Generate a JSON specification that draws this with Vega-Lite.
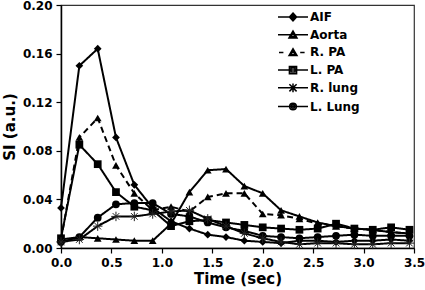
{
  "$schema": "https://vega.github.io/schema/vega-lite/v6.json",
  "width": 353,
  "height": 243,
  "autosize": {"type": "none"},
  "padding": {"left": 61, "top": 5, "right": 11, "bottom": 42},
  "background": "white",
  "config": {
    "view": {"stroke": "#333", "strokeWidth": 1.2},
    "font": "DejaVu Sans",
    "axis": {
      "labelFont": "DejaVu Sans", "labelFontWeight": "bold", "labelFontSize": 12, "labelColor": "black",
      "titleFont": "DejaVu Sans", "titleFontWeight": "bold", "titleFontSize": 15, "titleColor": "black",
      "domainColor": "black", "domainWidth": 1.5, "tickColor": "black", "tickWidth": 1.2, "tickSize": 5,
      "grid": false, "labelFlush": false
    }
  },
  "data": {"values": [
    {"t":0.0,"series":"AIF","v":0.033},{"t":0.182,"series":"AIF","v":0.150},{"t":0.364,"series":"AIF","v":0.164},{"t":0.545,"series":"AIF","v":0.091},{"t":0.727,"series":"AIF","v":0.052},{"t":0.909,"series":"AIF","v":0.033},{"t":1.091,"series":"AIF","v":0.022},{"t":1.273,"series":"AIF","v":0.016},{"t":1.455,"series":"AIF","v":0.011},{"t":1.636,"series":"AIF","v":0.009},{"t":1.818,"series":"AIF","v":0.006},{"t":2.0,"series":"AIF","v":0.005},{"t":2.182,"series":"AIF","v":0.004},{"t":2.364,"series":"AIF","v":0.006},{"t":2.545,"series":"AIF","v":0.006},{"t":2.727,"series":"AIF","v":0.005},{"t":2.909,"series":"AIF","v":0.006},{"t":3.091,"series":"AIF","v":0.006},{"t":3.273,"series":"AIF","v":0.007},{"t":3.455,"series":"AIF","v":0.006},
    {"t":0.0,"series":"Aorta","v":0.007},{"t":0.182,"series":"Aorta","v":0.009},{"t":0.364,"series":"Aorta","v":0.008},{"t":0.545,"series":"Aorta","v":0.007},{"t":0.727,"series":"Aorta","v":0.006},{"t":0.909,"series":"Aorta","v":0.006},{"t":1.091,"series":"Aorta","v":0.020},{"t":1.273,"series":"Aorta","v":0.046},{"t":1.455,"series":"Aorta","v":0.064},{"t":1.636,"series":"Aorta","v":0.065},{"t":1.818,"series":"Aorta","v":0.051},{"t":2.0,"series":"Aorta","v":0.045},{"t":2.182,"series":"Aorta","v":0.031},{"t":2.364,"series":"Aorta","v":0.026},{"t":2.545,"series":"Aorta","v":0.021},{"t":2.727,"series":"Aorta","v":0.018},{"t":2.909,"series":"Aorta","v":0.016},{"t":3.091,"series":"Aorta","v":0.015},{"t":3.273,"series":"Aorta","v":0.013},{"t":3.455,"series":"Aorta","v":0.012},
    {"t":0.0,"series":"R. PA","v":0.007},{"t":0.182,"series":"R. PA","v":0.091},{"t":0.364,"series":"R. PA","v":0.107},{"t":0.545,"series":"R. PA","v":0.068},{"t":0.727,"series":"R. PA","v":0.045},{"t":0.909,"series":"R. PA","v":0.031},{"t":1.091,"series":"R. PA","v":0.034},{"t":1.273,"series":"R. PA","v":0.030},{"t":1.455,"series":"R. PA","v":0.042},{"t":1.636,"series":"R. PA","v":0.045},{"t":1.818,"series":"R. PA","v":0.045},{"t":2.0,"series":"R. PA","v":0.028},{"t":2.182,"series":"R. PA","v":0.027},{"t":2.364,"series":"R. PA","v":0.024},{"t":2.545,"series":"R. PA","v":0.020},{"t":2.727,"series":"R. PA","v":0.018},{"t":2.909,"series":"R. PA","v":0.016},{"t":3.091,"series":"R. PA","v":0.015},{"t":3.273,"series":"R. PA","v":0.013},{"t":3.455,"series":"R. PA","v":0.012},
    {"t":0.0,"series":"L. PA","v":0.008},{"t":0.182,"series":"L. PA","v":0.085},{"t":0.364,"series":"L. PA","v":0.069},{"t":0.545,"series":"L. PA","v":0.046},{"t":0.727,"series":"L. PA","v":0.034},{"t":0.909,"series":"L. PA","v":0.031},{"t":1.091,"series":"L. PA","v":0.018},{"t":1.273,"series":"L. PA","v":0.022},{"t":1.455,"series":"L. PA","v":0.023},{"t":1.636,"series":"L. PA","v":0.021},{"t":1.818,"series":"L. PA","v":0.019},{"t":2.0,"series":"L. PA","v":0.017},{"t":2.182,"series":"L. PA","v":0.016},{"t":2.364,"series":"L. PA","v":0.015},{"t":2.545,"series":"L. PA","v":0.016},{"t":2.727,"series":"L. PA","v":0.020},{"t":2.909,"series":"L. PA","v":0.016},{"t":3.091,"series":"L. PA","v":0.015},{"t":3.273,"series":"L. PA","v":0.017},{"t":3.455,"series":"L. PA","v":0.015},
    {"t":0.0,"series":"R. lung","v":0.005},{"t":0.182,"series":"R. lung","v":0.007},{"t":0.364,"series":"R. lung","v":0.018},{"t":0.545,"series":"R. lung","v":0.026},{"t":0.727,"series":"R. lung","v":0.026},{"t":0.909,"series":"R. lung","v":0.028},{"t":1.091,"series":"R. lung","v":0.030},{"t":1.273,"series":"R. lung","v":0.031},{"t":1.455,"series":"R. lung","v":0.024},{"t":1.636,"series":"R. lung","v":0.018},{"t":1.818,"series":"R. lung","v":0.012},{"t":2.0,"series":"R. lung","v":0.008},{"t":2.182,"series":"R. lung","v":0.005},{"t":2.364,"series":"R. lung","v":0.003},{"t":2.545,"series":"R. lung","v":0.004},{"t":2.727,"series":"R. lung","v":0.004},{"t":2.909,"series":"R. lung","v":0.003},{"t":3.091,"series":"R. lung","v":0.003},{"t":3.273,"series":"R. lung","v":0.004},{"t":3.455,"series":"R. lung","v":0.004},
    {"t":0.0,"series":"L. Lung","v":0.005},{"t":0.182,"series":"L. Lung","v":0.009},{"t":0.364,"series":"L. Lung","v":0.025},{"t":0.545,"series":"L. Lung","v":0.036},{"t":0.727,"series":"L. Lung","v":0.037},{"t":0.909,"series":"L. Lung","v":0.037},{"t":1.091,"series":"L. Lung","v":0.028},{"t":1.273,"series":"L. Lung","v":0.026},{"t":1.455,"series":"L. Lung","v":0.021},{"t":1.636,"series":"L. Lung","v":0.017},{"t":1.818,"series":"L. Lung","v":0.014},{"t":2.0,"series":"L. Lung","v":0.010},{"t":2.182,"series":"L. Lung","v":0.009},{"t":2.364,"series":"L. Lung","v":0.008},{"t":2.545,"series":"L. Lung","v":0.009},{"t":2.727,"series":"L. Lung","v":0.010},{"t":2.909,"series":"L. Lung","v":0.011},{"t":3.091,"series":"L. Lung","v":0.010},{"t":3.273,"series":"L. Lung","v":0.010},{"t":3.455,"series":"L. Lung","v":0.010}
  ]},
  "encoding": {
    "x": {"field": "t", "type": "quantitative",
      "scale": {"domain": [0, 3.5], "nice": false},
      "axis": {"title": "Time (sec)", "values": [0,0.5,1,1.5,2,2.5,3,3.5], "format": ".1f", "labelPadding": 4, "titlePadding": 3}},
    "y": {"field": "v", "type": "quantitative",
      "scale": {"domain": [0, 0.2], "nice": false},
      "axis": {"title": "SI (a.u.)", "values": [0,0.04,0.08,0.12,0.16,0.2], "format": ".2f", "labelPadding": 4, "titlePadding": 5}}
  },
  "layer": [
    {
      "mark": {"type": "line", "color": "black", "strokeWidth": 2},
      "encoding": {
        "detail": {"field": "series"},
        "strokeDash": {"field": "series", "type": "nominal",
          "scale": {"domain": ["AIF","Aorta","R. PA","L. PA","R. lung","L. Lung"], "range": [[1,0],[1,0],[6,4],[1,0],[1,0],[1,0]]},
          "legend": null}
      }
    },
    {
      "transform": [{"filter": "datum.series !== 'R. lung'"}],
      "mark": {"type": "point", "filled": true, "color": "black", "opacity": 1, "size": 60},
      "encoding": {
        "shape": {"field": "series", "type": "nominal",
          "scale": {"domain": ["AIF","Aorta","R. PA","L. PA","L. Lung"], "range": ["diamond","triangle-up","triangle-up","square","circle"]},
          "legend": null}
      }
    },
    {
      "transform": [{"filter": "datum.series === 'R. lung'"}],
      "mark": {"type": "point", "filled": false, "color": "#222", "opacity": 1, "strokeWidth": 1, "size": 90,
        "shape": "M-1,0H1M0,-1V1M-0.7,-0.7L0.7,0.7M-0.7,0.7L0.7,-0.7"}
    },
    {
      "mark": {"type": "point", "filled": false, "color": "black", "opacity": 0, "strokeWidth": 1.5},
      "encoding": {
        "shape": {"field": "series", "type": "nominal",
          "scale": {"domain": ["AIF","Aorta","R. PA","L. PA","R. lung","L. Lung"],
            "range": [
              "M-1.875,0H1.875M0,-0.5L0.45,0L0,0.5L-0.45,0ZM0,-0.3L0.27,0L0,0.3L-0.27,0ZM0,-0.12L0.1,0L0,0.12L-0.1,0Z",
              "M-1.875,0H1.875M-0.5,0.4L0,-0.45L0.5,0.4ZM-0.28,0.25L0,-0.2L0.28,0.25Z",
              "M-1.75,0H-1.2M-0.5,0.4L0,-0.45L0.5,0.4ZM-0.28,0.25L0,-0.2L0.28,0.25ZM0.9,0H1.45",
              "M-1.875,0H1.875M-0.45,-0.45H0.45V0.45H-0.45ZM-0.25,-0.25H0.25V0.25H-0.25Z",
              "M-1.875,0H1.875M0,-0.55V0.55M-0.45,-0.45L0.45,0.45M-0.45,0.45L0.45,-0.45",
              "M-1.875,0H1.875M-0.42,0A0.42,0.42,0,1,0,0.42,0A0.42,0.42,0,1,0,-0.42,0ZM-0.22,0A0.22,0.22,0,1,0,0.22,0A0.22,0.22,0,1,0,-0.22,0Z"
            ]},
          "legend": {
            "title": null, "orient": "none", "legendX": 223, "legendY": 3, "padding": 0,
            "symbolSize": 256, "symbolStrokeWidth": 1.5, "symbolOpacity": 1,
            "symbolFillColor": "black", "symbolStrokeColor": "black",
            "labelFont": "DejaVu Sans", "labelFontWeight": "bold", "labelFontSize": 12, "labelColor": "black",
            "labelOffset": 8, "rowPadding": 1.7,
            "encode": {"symbols": {"update": {"opacity": {"value": 1}, "fill": {"value": "black"}, "stroke": {"value": "black"}, "strokeWidth": {"value": 1.5}}}}
          }
        }
      }
    }
  ],
  "resolve": {"scale": {"shape": "independent"}, "legend": {"shape": "independent"}}
}
